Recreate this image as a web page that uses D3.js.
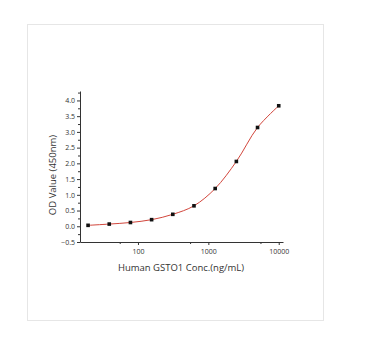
<!DOCTYPE html>
<html>
<head>
<meta charset="utf-8">
<script src="https://cdn.jsdelivr.net/npm/d3@7"></script>
<style>
  body { margin: 0; background: #fff; }
  svg text { font-family: "Open Sans", "Liberation Sans", sans-serif; fill: #333; }
</style>
</head>
<body>
<svg id="chart" width="366" height="339"></svg>
<script>
// data
const conc = [19.53, 39.06, 78.13, 156.25, 312.5, 625, 1250, 2500, 5000, 10000];
const od = [0.03, 0.07, 0.12, 0.21, 0.38, 0.65, 1.20, 2.06, 3.14, 3.83];
const xMajorTicks = [100, 1000, 10000];
const xMinorTicks = [55, 550, 5500];
const yMajorTicks = [-0.5, 0, 0.5, 1, 1.5, 2, 2.5, 3, 3.5, 4];
const yMinorTicks = [-0.25, 0.25, 0.75, 1.25, 1.75, 2.25, 2.75, 3.25, 3.75, 4.25];

const svg = d3.select('#chart');

// frame around the whole figure
svg.append('rect')
   .attr('x', 27.5).attr('y', 24.5)
   .attr('width', 296).attr('height', 296)
   .attr('fill', 'none')
   .attr('stroke', '#e6e6e6');

const mLeft = 80, mRight = 283, mTop = 91, mBottom = 242;

const x = d3.scaleLog().domain([15, 11500]).range([mLeft, mRight]);
const y = d3.scaleLinear().domain([-0.5, 4.3]).range([mBottom, mTop]);

// x axis
const xAxis = svg.append('g').attr('transform', `translate(0,${mBottom})`);
xAxis.call(d3.axisBottom(x).tickValues(xMajorTicks).tickFormat(d3.format('d'))
     .tickSize(3).tickSizeOuter(0).tickPadding(4));
xAxis.append('g')
     .call(d3.axisBottom(x).tickValues(xMinorTicks).tickFormat('').tickSize(2))
     .select('.domain').remove();
xAxis.selectAll('text').attr('font-size', 7).style('fill', '#333');

// y axis
const yAxis = svg.append('g').attr('transform', `translate(${mLeft},0)`);
yAxis.call(d3.axisLeft(y).tickValues(yMajorTicks).tickFormat(d3.format('.1f'))
     .tickSize(3).tickSizeOuter(0).tickPadding(2));
yAxis.append('g')
     .call(d3.axisLeft(y).tickValues(yMinorTicks).tickFormat('').tickSize(2))
     .select('.domain').remove();
yAxis.selectAll('text').attr('font-size', 7).style('fill', '#333');

svg.selectAll('.domain, .tick line').attr('stroke', '#333');

// fitted curve (smooth through the points)
const line = d3.line()
    .x((d, i) => x(conc[i]))
    .y(d => y(d))
    .curve(d3.curveCatmullRom.alpha(0.5));

svg.append('path')
   .datum(od)
   .attr('d', line)
   .attr('fill', 'none')
   .attr('stroke', '#d2463c')
   .attr('stroke-width', 1);

// points
svg.append('g').selectAll('rect')
   .data(od)
   .join('rect')
   .attr('x', (d, i) => x(conc[i]) - 1.8)
   .attr('y', d => y(d) - 1.8)
   .attr('width', 3.6).attr('height', 3.6)
   .attr('fill', '#111');

// axis titles
svg.append('text')
   .attr('x', 181).attr('y', 271)
   .attr('text-anchor', 'middle')
   .attr('font-size', 9.5)
   .text('Human GSTO1 Conc.(ng/mL)');

svg.append('text')
   .attr('transform', 'translate(56,175) rotate(-90)')
   .attr('text-anchor', 'middle')
   .attr('font-size', 9.5)
   .text('OD Value (450nm)');
</script>
</body>
</html>
